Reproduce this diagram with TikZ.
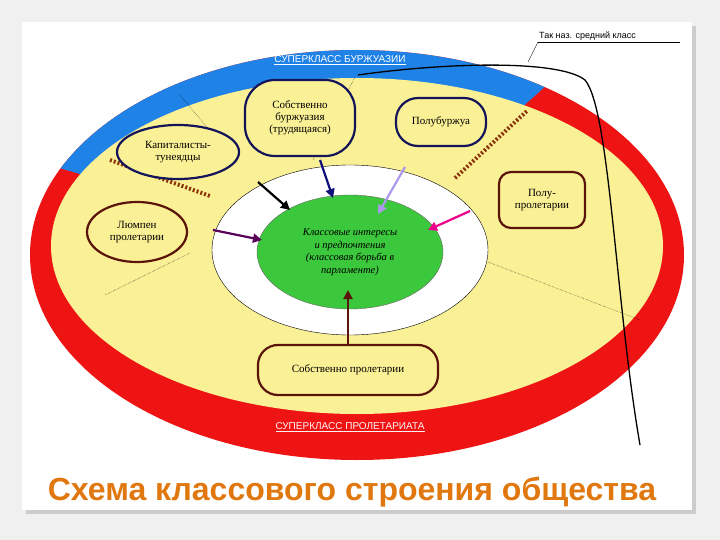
\documentclass[tikz,border=0pt]{standalone}
\usepackage{fontspec}
\setmainfont{Liberation Serif}
\newfontfamily\arialf{Liberation Sans}
\usetikzlibrary{arrows.meta,shapes.geometric}
\definecolor{ylw}{RGB}{250,240,150}
\definecolor{rd}{RGB}{238,20,20}
\definecolor{bl}{RGB}{30,130,230}
\definecolor{grn}{RGB}{60,200,60}
\definecolor{navy}{RGB}{20,20,90}
\definecolor{brn}{RGB}{90,20,10}
\definecolor{orng}{RGB}{225,120,15}
\tikzset{
 lbl/.style={font=\fontsize{11}{12}\selectfont, align=center},
 nv/.style={draw=navy, line width=2.2pt, fill=ylw, lbl},
 br/.style={draw=brn, line width=2.2pt, fill=ylw, lbl},
 arr/.style={line width=2.2pt,-{Triangle[length=9pt,width=9pt]}},
 sep/.style={draw=brn!70!orange, line width=4pt, dash pattern=on 2pt off 2pt},
 dots/.style={densely dotted, thin},
}
\begin{document}
\begin{tikzpicture}[x=1pt,y=-1pt]
\useasboundingbox (0,0) rectangle (720,540);
\fill[gray!12] (0,0) rectangle (720,540);
\fill[gray!40] (26,26) rectangle (696,514);
\fill[white] (22,22) rectangle (692,510);
% rings
\fill[rd] (357,255) ellipse [x radius=327, y radius=205];
\fill[bl] (357,255) -- ++(-55:327 and 205) arc[start angle=-55, end angle=-155, x radius=327, y radius=205] -- cycle;
\fill[ylw] (357,246) ellipse [x radius=306, y radius=168];
\draw[sep] (110,160) -- (210,196);
\draw[sep] (455,178) -- (528,110);
\draw[dots] (180,95) -- (237,163);
\draw[dots] (355,77) -- (313,160);
\draw[dots] (190,253) -- (105,295);
\draw[dots] (488,262) -- (640,320);
\fill[white] (350,250) ellipse [x radius=138, y radius=85];
\draw[thin] (350,250) ellipse [x radius=138, y radius=85];
\node[ellipse, fill=grn, draw=black!60, thin, minimum width=186, minimum height=114,
  font=\itshape\fontsize{10.5}{12.5}\selectfont, align=center, inner sep=0] (core) at (350,252)
  {Классовые интересы\\и предпочтения\\(классовая борьба в\\парламенте)};
\node[font=\arialf\fontsize{10}{12}\selectfont, text=white] (sb) at (340,60) {\underline{СУПЕРКЛАСС БУРЖУАЗИИ}};
\node[font=\arialf\fontsize{10}{12}\selectfont, text=white!85!pink] (sp) at (350,427) {\underline{СУПЕРКЛАСС ПРОЛЕТАРИАТА}};
% nodes
\node[nv, ellipse, minimum width=122, minimum height=54, inner sep=0] (kt) at (178,152) {Капиталисты-\\тунеядцы};
\node[nv, rounded corners=30, minimum width=110, minimum height=76] (sob) at (300,118) {Собственно\\буржуазия\\(трудящаяся)};
\node[nv, rounded corners=22, minimum width=90, minimum height=48] (pb) at (441,122) {Полубуржуа};
\node[br, rounded corners=12, minimum width=86, minimum height=56] (pp) at (542,200) {Полу-\\пролетарии};
\node[br, ellipse, minimum width=100, minimum height=60, inner sep=0] (lp) at (137,232) {Люмпен\\пролетарии};
\node[br, rounded corners=20, minimum width=180, minimum height=50] (sp2) at (348,370) {Собственно пролетарии};
% arrows
\coordinate (a1) at (258,182); \coordinate (a2) at (320,160); \coordinate (a3) at (405,167);
\coordinate (a4) at (470,211); \coordinate (a5) at (213,230);
\draw[arr, black] (a1) -- (290,210);
\draw[arr, navy!80!blue] (a2) -- (333,198);
\draw[arr, violet!40!blue!40!white] (a3) -- (378,214);
\draw[arr, magenta] (a4) -- (428,230);
\draw[arr, violet!70!black] (a5) -- (262,240);
\draw[arr, brn] (sp2.north) -- (348,290);
% middle class
\node[font=\arialf\fontsize{9}{10}\selectfont, anchor=south west, inner sep=1] (mc) at (538,42) {Так наз. средний класс};
\draw (mc.south west) -- (680,42);
\draw (mc.south west) -- (528,62);
\draw[line width=1.3pt] (358,75) .. controls (450,62) and (560,60) .. (585,80)
  .. controls (610,110) and (615,300) .. (640,445);
% title
\node[font=\arialf\bfseries\fontsize{32}{34}\selectfont, text=orng] (title) at (352,492) {Схема классового строения общества};
\end{tikzpicture}
\end{document}
